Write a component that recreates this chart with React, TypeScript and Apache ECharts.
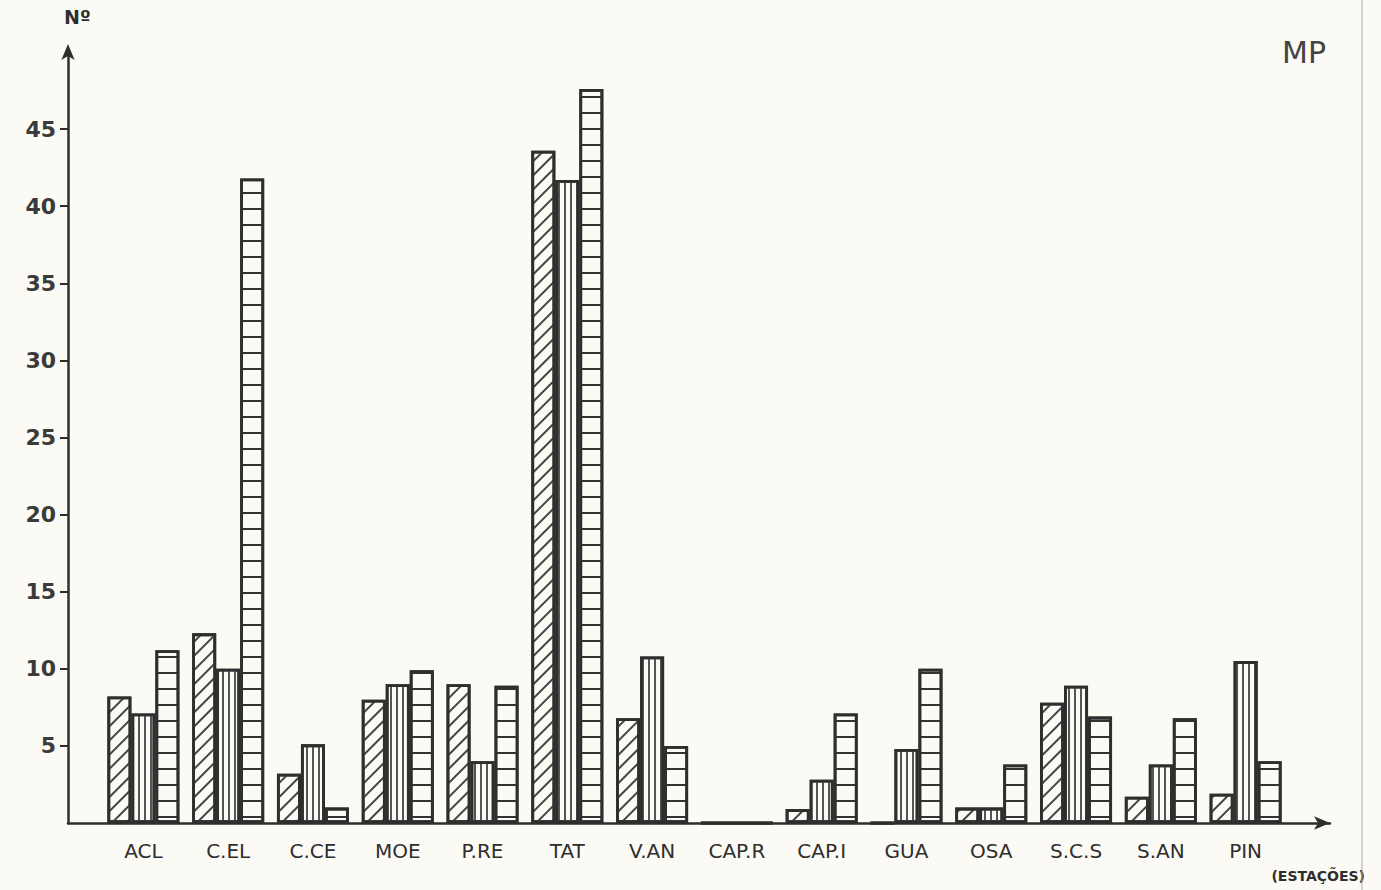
import React, { useEffect, useRef } from "react";
import * as echarts from "echarts";

const stations = ["ACL", "C.EL", "C.CE", "MOE", "P.RE", "TAT", "V.AN", "CAP.R", "CAP.I", "GUA", "OSA", "S.C.S", "S.AN", "PIN"];
const seriesHatched = [8.2, 12.3, 3.2, 8.0, 9.0, 43.6, 6.8, 0, 0.9, 0, 1.0, 7.8, 1.7, 1.9];
const seriesVertical = [7.1, 10.0, 5.1, 9.0, 4.0, 41.7, 10.8, 0, 2.8, 4.8, 1.0, 8.9, 3.8, 10.5];
const seriesHorizontal = [11.2, 41.8, 1.0, 9.9, 8.9, 47.6, 5.0, 0, 7.1, 10.0, 3.8, 6.9, 6.8, 4.0];
const yTicks = [5, 10, 15, 20, 25, 30, 35, 40, 45];

const INK = "#2e2e2e";
const PAPER = "#fbfaf4";

export default function App() {
  const ref = useRef<HTMLDivElement>(null);
  useEffect(() => {
    if (!ref.current) return;
    const chart = echarts.init(ref.current, undefined, { renderer: "svg" });
    const barStyle = (decal: any) => ({
      color: PAPER,
      borderColor: INK,
      borderWidth: 2.8,
      decal,
    });
    const option: any = {
      animation: false,
      backgroundColor: PAPER,
      title: {
        text: "MP",
        right: 50,
        top: 32,
        textStyle: { fontSize: 30, fontWeight: "normal", color: "#444", fontFamily: "DejaVu Sans" },
      },
      graphic: [
        {
          type: "text",
          right: 16,
          top: 869,
          style: { text: "(ESTAÇÕES)", fontSize: 14, fontWeight: "bold", fill: INK, fontFamily: "DejaVu Sans" },
        },
        {
          type: "line",
          shape: { x1: 1362, y1: 0, x2: 1362, y2: 890 },
          style: { stroke: "#aaa", lineWidth: 1 },
        },
      ],
      grid: [
        { left: 101, right: 93, top: 52, bottom: 67 },
        { left: 68, right: 51, top: 52, bottom: 67 },
      ],
      xAxis: [
        {
          type: "category",
          gridIndex: 0,
          data: stations,
          axisLine: { show: false },
          axisTick: { show: false },
          axisLabel: { margin: 18, fontSize: 20, color: INK, fontFamily: "DejaVu Sans", interval: 0 },
        },
        {
          type: "value",
          gridIndex: 1,
          min: 0,
          max: 1,
          axisLine: { show: true, symbol: ["none", "arrow"], symbolSize: [10, 16], lineStyle: { color: INK, width: 2.5 } },
          axisTick: { show: false },
          axisLabel: { show: false },
          splitLine: { show: false },
        },
      ],
      yAxis: [
        { type: "value", gridIndex: 0, min: 0, max: 50, show: false },
        {
          type: "value",
          gridIndex: 1,
          min: 0,
          max: 50,
          interval: 5,
          name: "Nº",
          nameLocation: "end",
          nameGap: 26,
          nameTextStyle: { fontSize: 19, fontWeight: "bold", color: INK, fontFamily: "DejaVu Sans", align: "left", padding: [0, 0, 0, -4] },
          axisLine: { show: true, symbol: ["none", "arrow"], symbolSize: [10, 16], symbolOffset: [0, 8], lineStyle: { color: INK, width: 2.5 } },
          axisTick: { show: true, length: 8, customValues: yTicks, lineStyle: { color: INK, width: 2 } },
          axisLabel: { customValues: yTicks, margin: 12, fontSize: 22, fontWeight: "bold", color: "#3a3a3a", fontFamily: "DejaVu Sans" },
          splitLine: { show: false },
        },
      ],
      series: [
        {
          type: "bar",
          xAxisIndex: 0,
          yAxisIndex: 0,
          data: seriesHatched,
          barWidth: 24,
          barGap: "0%",
          itemStyle: barStyle({ symbol: "rect", symbolSize: 1, dashArrayX: [1, 0], dashArrayY: [1.3, 8], rotation: -Math.PI / 4, color: "#444" }),
        },
        {
          type: "bar",
          xAxisIndex: 0,
          yAxisIndex: 0,
          data: seriesVertical,
          barWidth: 24,
          barGap: "0%",
          itemStyle: barStyle({ symbol: "rect", symbolSize: 1, dashArrayX: [1.2, 4], dashArrayY: [1, 0], color: "#555" }),
        },
        {
          type: "bar",
          xAxisIndex: 0,
          yAxisIndex: 0,
          data: seriesHorizontal,
          barWidth: 24,
          barGap: "0%",
          itemStyle: barStyle({ symbol: "rect", symbolSize: 1, dashArrayX: [1, 0], dashArrayY: [1.5, 13.9], color: "#333" }),
        },
      ],
    };
    chart.setOption(option);
    return () => chart.dispose();
  }, []);
  return <div ref={ref} style={{ position: "fixed", left: 0, top: 0, width: 1381, height: 890 }} />;
}
